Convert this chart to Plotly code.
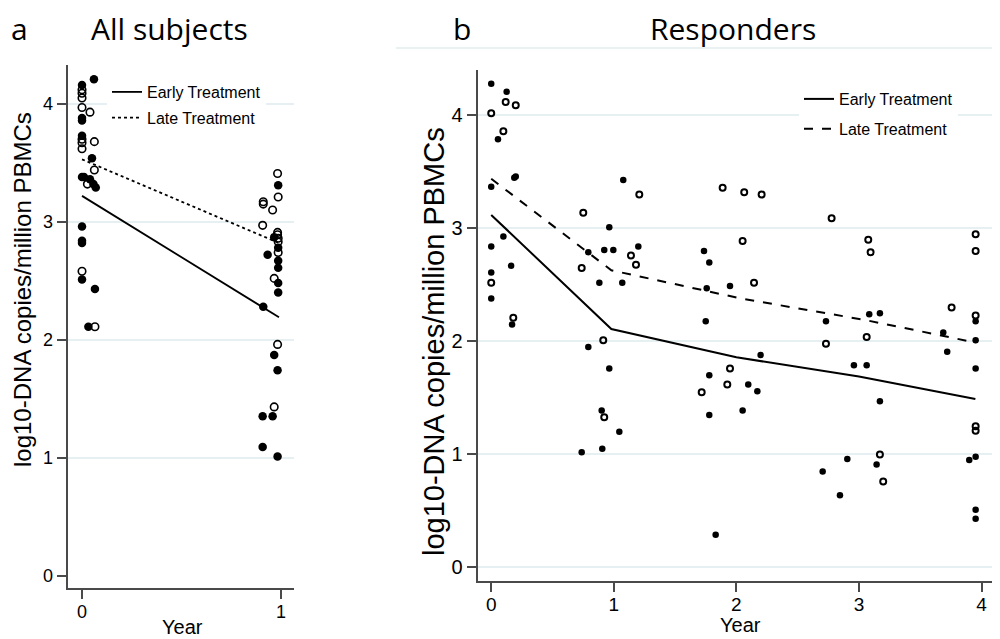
import plotly.graph_objects as go

# ---------------- Panel a: All subjects ----------------
a_early_x = [0.06, 0.0, 0.0, 0.0, 0.0, 0.05, 0.0, 0.01, 0.04, 0.057, 0.069, 0.0, 0.0, 0.0, 0.0, 0.065, 0.032,
             0.986, 0.966, 0.986, 0.933, 0.986, 0.986, 0.986, 0.986, 0.911, 0.966, 0.983, 0.908, 0.958, 0.908, 0.983]
a_early_y = [4.21, 4.16, 3.88, 3.86, 3.73, 3.54, 3.38, 3.38, 3.36, 3.32, 3.29, 2.96, 2.84, 2.82, 2.51, 2.43, 2.11,
             3.31, 2.87, 2.78, 2.72, 2.67, 2.61, 2.48, 2.40, 2.28, 1.87, 1.74, 1.35, 1.35, 1.09, 1.01]
a_late_x = [0.0, 0.0, 0.0, 0.0, 0.04, 0.0, 0.0, 0.0, 0.062, 0.062, 0.027, 0.0, 0.065,
            0.983, 0.986, 0.911, 0.911, 0.958, 0.908, 0.983, 0.983, 0.986, 0.986, 0.986, 0.966, 0.983, 0.966]
a_late_y = [4.12, 4.09, 4.05, 3.97, 3.93, 3.70, 3.67, 3.62, 3.68, 3.44, 3.32, 2.58, 2.11,
            3.41, 3.21, 3.17, 3.15, 3.10, 2.97, 2.91, 2.89, 2.86, 2.83, 2.74, 2.52, 1.96, 1.43]
a_fit_x = [0.0, 0.99]
a_fit_early = [3.22, 2.19]
a_fit_late = [3.53, 2.82]

# ---------------- Panel b: Responders ----------------
b_early_x = [0.0, 0.126, 0.055, 0.188, 0.2, 0.0, 1.077, 0.963, 0.099, 0.0, 0.792, 0.922, 0.996, 1.2,
             0.162, 0.0, 0.882, 1.069, 0.0, 0.17, 0.792, 0.963, 0.901, 1.045, 0.738, 0.906,
             1.736, 1.779, 1.758, 1.948, 1.75, 1.779, 2.097, 1.779, 2.051, 1.831, 2.198, 2.171,
             2.731, 3.084, 3.171, 2.959, 3.063, 3.171, 3.688, 3.72, 3.952, 3.952, 3.952,
             2.905, 3.144, 2.704, 2.845, 3.9, 3.952, 3.952, 3.952]
b_early_y = [4.28, 4.21, 3.79, 3.45, 3.46, 3.37, 3.43, 3.01, 2.93, 2.84, 2.79, 2.81, 2.81, 2.84,
             2.67, 2.61, 2.52, 2.52, 2.38, 2.15, 1.95, 1.76, 1.39, 1.20, 1.02, 1.05,
             2.80, 2.70, 2.47, 2.49, 2.18, 1.70, 1.62, 1.35, 1.39, 0.29, 1.88, 1.56,
             2.18, 2.24, 2.25, 1.79, 1.79, 1.47, 2.08, 1.91, 2.18, 2.01, 1.76,
             0.96, 0.91, 0.85, 0.64, 0.95, 0.98, 0.51, 0.43]
b_late_x = [0.118, 0.2, 0.0, 0.099, 0.751, 1.208, 1.14, 1.181, 0.738, 0.0, 0.18, 0.914, 0.922,
            1.888, 2.064, 2.051, 2.144, 1.948, 1.926, 1.717, 2.206, 2.777, 3.076, 3.095,
            3.952, 3.952, 3.756, 2.731, 3.063, 3.952, 3.952, 3.952, 3.171, 3.198]
b_late_y = [4.12, 4.09, 4.02, 3.86, 3.14, 3.30, 2.76, 2.68, 2.65, 2.52, 2.21, 2.01, 1.33,
            3.36, 3.32, 2.89, 2.52, 1.76, 1.62, 1.55, 3.30, 3.09, 2.90, 2.79,
            2.95, 2.80, 2.30, 1.98, 2.04, 2.23, 1.25, 1.21, 1.00, 0.76]
b_fit_early_x = [0.0, 0.98, 2.0, 3.0, 3.95]
b_fit_early_y = [3.12, 2.11, 1.86, 1.69, 1.49]
b_fit_late_x = [0.0, 0.98, 2.04, 3.05, 3.64, 3.95]
b_fit_late_y = [3.44, 2.63, 2.38, 2.19, 2.06, 1.99]

y_ticks = [0, 1, 2, 3, 4]
a_x_ticks = [0, 1]
b_x_ticks = [0, 1, 2, 3, 4]
y_title = "log10-DNA copies/million PBMCs"

# the page body has an 8px margin, so the figure is sized to fill the rest of the window
OFF = 8
W, H = 1000 - OFF, 639 - OFF
def px(x):
    return (x - OFF) / W
def py(y):
    return 1 - (y - OFF) / H

AX = "#4a4a4a"
GRID = "#e6eff1"
FONT = "Liberation Sans, Arial, sans-serif"

fig = go.Figure()

# panel a markers
fig.add_trace(go.Scatter(x=a_early_x, y=a_early_y, mode="markers", xaxis="x", yaxis="y",
                         marker=dict(symbol="circle", size=8.5, color="black"),
                         showlegend=False, name="Early Treatment"))
fig.add_trace(go.Scatter(x=a_late_x, y=a_late_y, mode="markers", xaxis="x", yaxis="y",
                         marker=dict(symbol="circle-open", size=7.5, color="black", line=dict(width=1.6)),
                         showlegend=False, name="Late Treatment"))
fig.add_trace(go.Scatter(x=a_fit_x, y=a_fit_early, mode="lines", xaxis="x", yaxis="y",
                         line=dict(color="black", width=1.8), name="Early Treatment",
                         legend="legend", legendgroup="ae"))
fig.add_trace(go.Scatter(x=a_fit_x, y=a_fit_late, mode="lines", xaxis="x", yaxis="y",
                         line=dict(color="black", width=1.8, dash="dot"), name="Late Treatment",
                         legend="legend", legendgroup="al"))

# panel b markers
fig.add_trace(go.Scatter(x=b_early_x, y=b_early_y, mode="markers", xaxis="x2", yaxis="y2",
                         marker=dict(symbol="circle", size=6.5, color="black"),
                         showlegend=False, name="Early Treatment"))
fig.add_trace(go.Scatter(x=b_late_x, y=b_late_y, mode="markers", xaxis="x2", yaxis="y2",
                         marker=dict(symbol="circle-open", size=6, color="black", line=dict(width=2)),
                         showlegend=False, name="Late Treatment"))
fig.add_trace(go.Scatter(x=b_fit_early_x, y=b_fit_early_y, mode="lines", xaxis="x2", yaxis="y2",
                         line=dict(color="black", width=2), name="Early Treatment",
                         legend="legend2", legendgroup="be"))
fig.add_trace(go.Scatter(x=b_fit_late_x, y=b_fit_late_y, mode="lines", xaxis="x2", yaxis="y2",
                         line=dict(color="black", width=2, dash="dash"), name="Late Treatment",
                         legend="legend2", legendgroup="bl"))

axis_common = dict(showline=True, linecolor=AX, linewidth=2, ticks="outside", ticklen=9,
                   tickwidth=1.5, tickcolor=AX, mirror=False)

fig.update_layout(
    width=W, height=H, margin=dict(l=0, r=0, t=0, b=0),
    paper_bgcolor="white", plot_bgcolor="white",
    font=dict(family=FONT, color="black"),
    xaxis=dict(domain=[px(67.5), px(293.5)], range=[-0.073, 1.063], tickvals=a_x_ticks,
               showgrid=False, zeroline=False, anchor="y", tickfont=dict(size=18),
               ticklabelstandoff=-3, **axis_common),
    yaxis=dict(domain=[py(588), py(65)], range=[-0.106, 4.33], tickvals=y_ticks,
               showgrid=True, gridcolor=GRID, gridwidth=1.5, anchor="x",
               tickfont=dict(size=18), zeroline=True, zerolinecolor="white", zerolinewidth=2,
               **axis_common),
    xaxis2=dict(domain=[px(477.5), px(995)], range=[-0.112, 4.11], tickvals=b_x_ticks,
                showgrid=False, zeroline=False, anchor="y2", tickfont=dict(size=19),
                ticklabelstandoff=-4, **axis_common),
    yaxis2=dict(domain=[py(581), py(70.3)], range=[-0.12, 4.4], tickvals=y_ticks,
                showgrid=True, gridcolor=GRID, gridwidth=1.5, anchor="x2", zeroline=False,
                tickfont=dict(size=20), **axis_common),
    legend=dict(x=px(107), y=py(75), xanchor="left", yanchor="top", bgcolor="white",
                font=dict(size=16, family=FONT), traceorder="grouped", tracegroupgap=2,
                borderwidth=0),
    legend2=dict(x=px(799), y=py(82), xanchor="left", yanchor="top", bgcolor="white",
                 font=dict(size=16, family=FONT), traceorder="grouped", tracegroupgap=6,
                 borderwidth=0),
)

title_font = dict(family="Open Sans, sans-serif", size=30, color="black")
ann = [
    dict(text="a", x=px(19), y=py(29), font=title_font),
    dict(text="All subjects", x=px(169), y=py(29), font=title_font),
    dict(text="b", x=px(462), y=py(29), font=title_font),
    dict(text="Responders", x=px(733), y=py(29), font=title_font),
    dict(text=y_title, x=px(23), y=py(290), textangle=-90, font=dict(size=24, family=FONT)),
    dict(text=y_title, x=px(434), y=py(342), textangle=-90, font=dict(size=29, family=FONT)),
    dict(text="Year", x=px(182), y=py(627), font=dict(size=20, family=FONT)),
    dict(text="Year", x=px(740), y=py(625), font=dict(size=20, family=FONT)),
]
for a in ann:
    a.update(xref="paper", yref="paper", showarrow=False, xanchor="center", yanchor="middle")
fig.update_layout(annotations=ann)

fig.add_shape(type="line", xref="paper", yref="paper", x0=px(396), x1=1, y0=py(48), y1=py(48),
              line=dict(color="#e3ecee", width=1.5))

fig.write_html("out.html")
